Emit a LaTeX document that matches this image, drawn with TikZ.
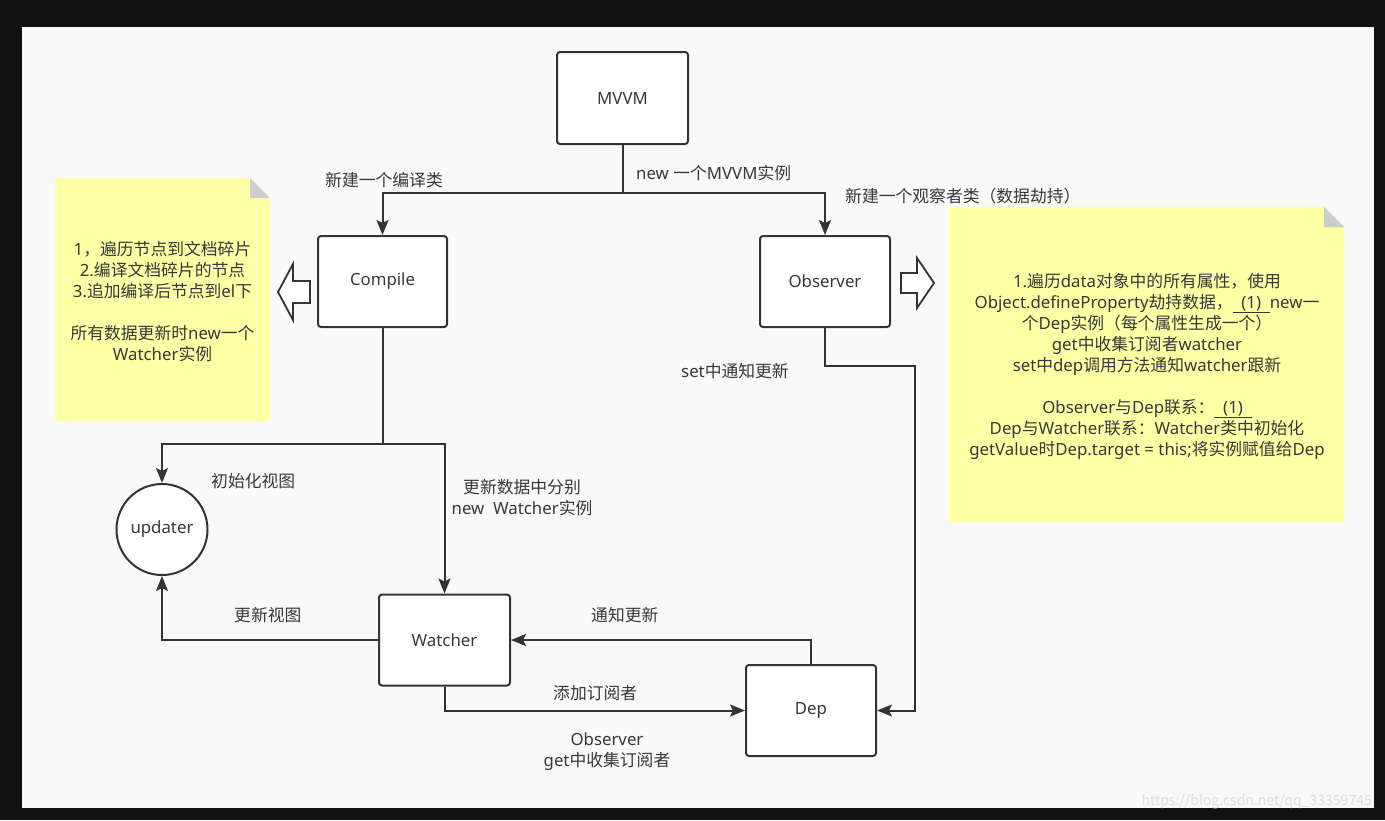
\documentclass[tikz,border=0pt]{standalone}
\usepackage{fontspec}
\setmainfont{Noto Sans}
\newfontfamily\cjkfont{Noto Sans CJK SC}
\XeTeXinterchartokenstate=1
\newXeTeXintercharclass\CJKcls
\count255="3000
\loop
  \XeTeXcharclass\count255=\CJKcls
  \advance\count255 by 1
\ifnum\count255<"A000 \repeat
\count255="FF00
\loop
  \XeTeXcharclass\count255=\CJKcls
  \advance\count255 by 1
\ifnum\count255<"FFF0 \repeat
\XeTeXinterchartoks 0 \CJKcls = {\begingroup\cjkfont}
\XeTeXinterchartoks 4095 \CJKcls = {\begingroup\cjkfont}
\XeTeXinterchartoks \CJKcls 0 = {\endgroup}
\XeTeXinterchartoks \CJKcls 4095 = {\endgroup}
\usetikzlibrary{arrows.meta}
\definecolor{ink}{RGB}{51,51,51}
\definecolor{txt}{RGB}{56,56,56}
\definecolor{bg}{RGB}{249,249,249}
\definecolor{frame}{RGB}{17,17,17}
\definecolor{notey}{RGB}{255,255,166}
\definecolor{foldc}{RGB}{205,205,205}
\definecolor{wm}{RGB}{222,222,222}
\tikzset{
  txtstyle/.style={font=\fontsize{16.8}{21}\selectfont, text=txt, inner sep=0pt},
  box/.style={draw=ink, line width=2pt, fill=white, rounded corners=3pt, txtstyle},
  roundnode/.style={circle, draw=ink, line width=2pt, fill=white, txtstyle},
  lbl/.style={txtstyle, align=center},
  line/.style={draw=ink, line width=2pt},
  arr/.style={line, -{Stealth[length=15pt,width=12pt,inset=3pt]}},
  blockarrow/.style={draw=ink, line width=1.8pt, fill=white, line join=miter},
  note/.style={fill=notey},
  fold/.style={fill=foldc},
}
\begin{document}
\begin{tikzpicture}[x=1pt,y=-1pt]
\useasboundingbox (0,0) rectangle (1385,820);
\fill[frame] (0,0) rectangle (1385,820);
\fill[bg] (22,27) rectangle (1374,808);

% sticky notes
\fill[note] (55,178) -- (250,178) -- (270,198) -- (270,421) -- (55,421) -- cycle;
\fill[fold] (250,178) -- (250,198) -- (270,198) -- cycle;
\fill[note] (949,207) -- (1324,207) -- (1344,227) -- (1344,522) -- (949,522) -- cycle;
\fill[fold] (1324,207) -- (1324,227) -- (1344,227) -- cycle;

\node[lbl] (leftnote) at (162.5,301.5) {1，遍历节点到文档碎片\\2.编译文档碎片的节点\\3.追加编译后节点到el下\\[21pt]所有数据更新时new一个\\Watcher实例};
\node[lbl] (rightnote) at (1147,366.5) {1.遍历data对象中的所有属性，使用\\Object.defineProperty劫持数据，\underline{\ \ (1)\ \ }new一\\个Dep实例（每个属性生成一个）\\get中收集订阅者watcher\\set中dep调用方法通知watcher跟新\\[21pt]Observer与Dep联系：\underline{\ \ (1)\ \ }\\Dep与Watcher联系：Watcher类中初始化\\getValue时Dep.target = this;将实例赋值给Dep};

% block arrows
\draw[blockarrow] (278,292) -- (293,264) -- (293,281) -- (310,281) -- (310,303) -- (293,303) -- (293,320) -- cycle;
\draw[blockarrow] (934,283) -- (917,258) -- (917,273) -- (901,273) -- (901,293) -- (917,293) -- (917,308) -- cycle;

% nodes
\node[box, minimum width=131pt, minimum height=92pt] (mvvm) at (622.5,98) {MVVM};
\node[box, minimum width=129pt, minimum height=91pt] (compile) at (382.5,281.5) {Compile};
\node[box, minimum width=130pt, minimum height=91pt] (observer) at (825,281.5) {Observer};
\node[roundnode, minimum size=91pt] (updater) at (162,529.5) {updater};
\node[box, minimum width=131pt, minimum height=91pt] (watcher) at (444.5,640) {Watcher};
\node[box, minimum width=130pt, minimum height=91pt] (dep) at (811,710.5) {Dep};

% junctions
\coordinate (split1) at (622.5,193);
\coordinate (split2) at (382.5,444);
\coordinate (obs1) at (825,366);
\coordinate (obs2) at (915,366);

% connectors
\draw[line] (mvvm.south) -- (split1);
\draw[arr] (split1) -| (compile.north);
\draw[arr] (split1) -| (observer.north);
\draw[line] (compile.south) -- (split2);
\draw[arr] (split2) -| (updater.north);
\draw[arr] (split2) -| (watcher.north);
\draw[arr] (watcher.west) -| (updater.south);
\draw[arr] (dep.north) |- (watcher.east);
\draw[arr] (watcher.south) |- (dep.west);
\draw[arr] (observer.south) -- (obs1) -- (obs2) |- (dep.east);

% labels
\node[lbl, anchor=west] (l1) at (636,173) {new 一个MVVM实例};
\node[lbl] (l2) at (384,180) {新建一个编译类};
\node[lbl, anchor=west] (l3) at (845,196) {新建一个观察者类（数据劫持）};
\node[lbl, anchor=west] (l4) at (681,371) {set中通知更新};
\node[lbl, anchor=west] (l5) at (211,481) {初始化视图};
\node[lbl] (l6) at (522,498) {更新数据中分别\\new\ \ Watcher实例};
\node[lbl, anchor=west] (l7) at (234,615) {更新视图};
\node[lbl, anchor=west] (l8) at (591,615) {通知更新};
\node[lbl, anchor=west] (l9) at (553,693) {添加订阅者};
\node[lbl] (l10) at (607,752) {Observer\\get中收集订阅者};

% watermark
\node[font=\cjkfont\fontsize{14}{14}\selectfont, text=wm, inner sep=0pt, anchor=base east] (wmark) at (1372,805) {https://blog.csdn.net/qq\_33359745};
\end{tikzpicture}
\end{document}
